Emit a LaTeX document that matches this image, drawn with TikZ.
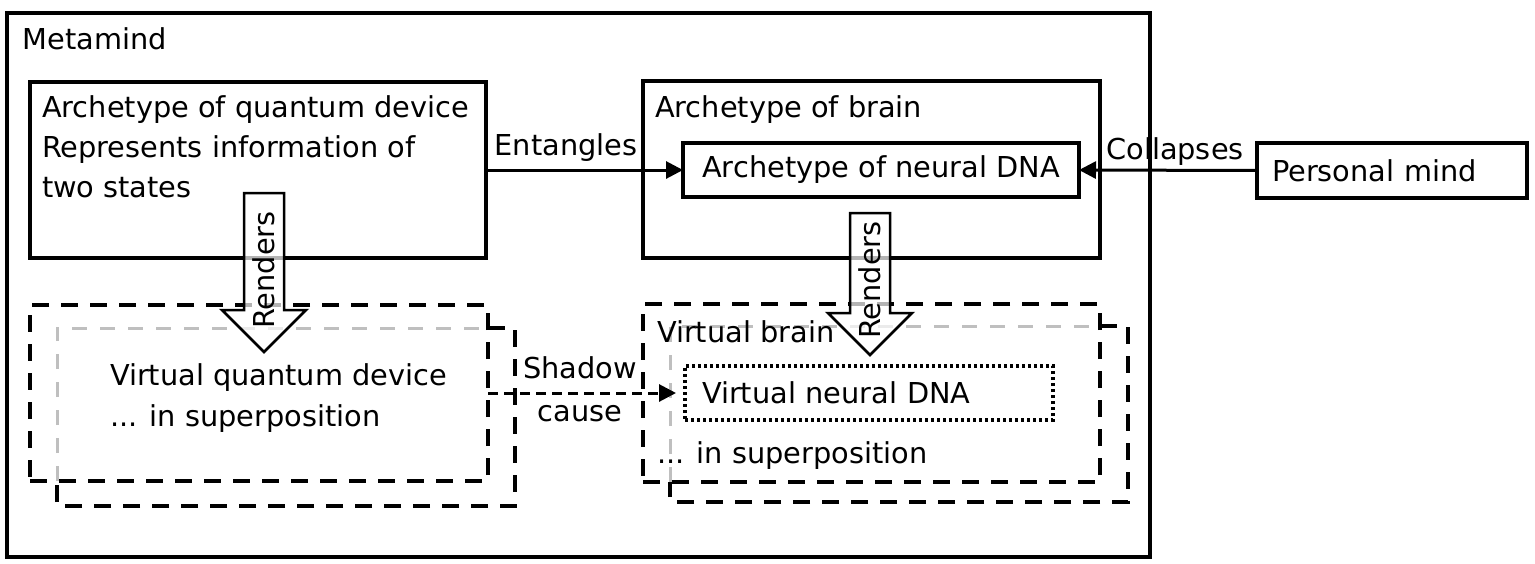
\documentclass[tikz,border=0pt]{standalone}
\usepackage{fontspec}
\setmainfont{DejaVu Sans}
\usetikzlibrary{arrows.meta}
\begin{document}
\begin{tikzpicture}[x=1pt,y=-1pt,
  every node/.style={font=\fontsize{28.8pt}{40pt}\selectfont, inner sep=0pt, outer sep=0pt},
  box/.style={draw, line width=3.5pt, rectangle, anchor=north west},
  outerbox/.style={draw, line width=4pt, rectangle, anchor=north west},
  dbox/.style={draw, line width=4.5pt, dash pattern=on 17pt off 12pt},
  gbox/.style={draw=black!25, line width=3pt, dash pattern=on 15pt off 13pt},
  dotbox/.style={draw, line width=3.5pt, dash pattern=on 3pt off 3pt, rectangle, anchor=north west},
  conn/.style={line width=3pt, -{Triangle[length=17pt,width=17pt]}},
  dconn/.style={conn, dash pattern=on 10pt off 6pt},
  blockarrow/.style={draw, line width=2.5pt, fill=white, fill opacity=0.7, line join=miter},
  txt/.style={anchor=base west},
  lbl/.style={anchor=base}]

\useasboundingbox (0,0) rectangle (1535,563);

% outer frame
\node[outerbox, minimum width=1143pt, minimum height=544pt] (meta) at (7,13) {};
\node[txt] (metat) at (23,49) {Metamind};

% archetype boxes
\node[box, minimum width=456pt, minimum height=176pt] (qarch) at (30,82) {};
\node[txt] (qt1) at (42,117) {Archetype of quantum device};
\node[txt] (qt2) at (42,157) {Represents information of};
\node[txt] (qt3) at (42,197) {two states};

\node[box, minimum width=457pt, minimum height=177pt] (barch) at (643,81) {};
\node[txt] (bt1) at (655,117) {Archetype of brain};
\node[box, minimum width=396pt, minimum height=54pt] (dnaarch) at (683,143) {Archetype of neural DNA};

\node[box, minimum height=55pt, text width=240pt, inner xsep=15pt, align=left] (mind) at (1257,143) {Personal mind};

% virtual boxes (left)
\node[dbox, rectangle, anchor=north west, minimum width=458pt, minimum height=176pt] (lfront) at (30,305) {};
\node[rectangle, anchor=north west, minimum width=458pt, minimum height=178pt] (lback) at (57,328) {};
\draw[dbox] (lback.north west -| lfront.east) -- (lback.north east) -- (lback.south east) -- (lback.south west) -- (lback.west |- lfront.south);
\draw[gbox] (lback.west |- lfront.south) -- (lback.north west) -- (lback.north west -| lfront.east);
\node[txt] (lv1) at (110,385) {Virtual quantum device};
\node[txt] (lv2) at (110,426) {... in superposition};

% virtual boxes (right)
\node[dbox, rectangle, anchor=north west, minimum width=457pt, minimum height=178pt] (rfront) at (643,304) {};
\node[rectangle, anchor=north west, minimum width=458pt, minimum height=176pt] (rback) at (670,326) {};
\draw[dbox] (rback.north west -| rfront.east) -- (rback.north east) -- (rback.south east) -- (rback.south west) -- (rback.west |- rfront.south);
\draw[gbox] (rback.west |- rfront.south) -- (rback.north west) -- (rback.north west -| rfront.east);
\node[txt] (rv1) at (657,342) {Virtual brain};
\node[dotbox, minimum height=54pt, text width=334pt, inner xsep=17pt, align=left] (vdna) at (685,366) {Virtual neural DNA};
\node[txt] (rv2) at (657,463) {... in superposition};

% connectors
\draw[conn] (qarch.east) -- (dnaarch.west);
\node[lbl] (entl) at (566,155) {Entangles};
\draw[conn] (mind.west) -- (dnaarch.east);
\node[lbl] (coll) at (1175,159) {Collapses};
\draw[dconn, shorten >=9pt] (lfront.east) -- (vdna.west);
\node[lbl] (sh1) at (580,378) {Shadow};
\node[lbl] (sh2) at (580,421) {cause};

% render block arrows
\coordinate (rA) at (264,193);
\draw[blockarrow] (rA) ++(-20,0) -- ++(40,0) -- ++(0,117) -- ++(22,0) -- ++(-42,42) -- ++(-42,-42) -- ++(22,0) -- cycle;
\node[rotate=90] (rAt) at (264,270) {Renders};
\coordinate (rB) at (870,213);
\draw[blockarrow] (rB) ++(-20,0) -- ++(40,0) -- ++(0,100) -- ++(22,0) -- ++(-42,42) -- ++(-42,-42) -- ++(22,0) -- cycle;
\node[rotate=90] (rBt) at (870,280) {Renders};
\end{tikzpicture}
\end{document}
